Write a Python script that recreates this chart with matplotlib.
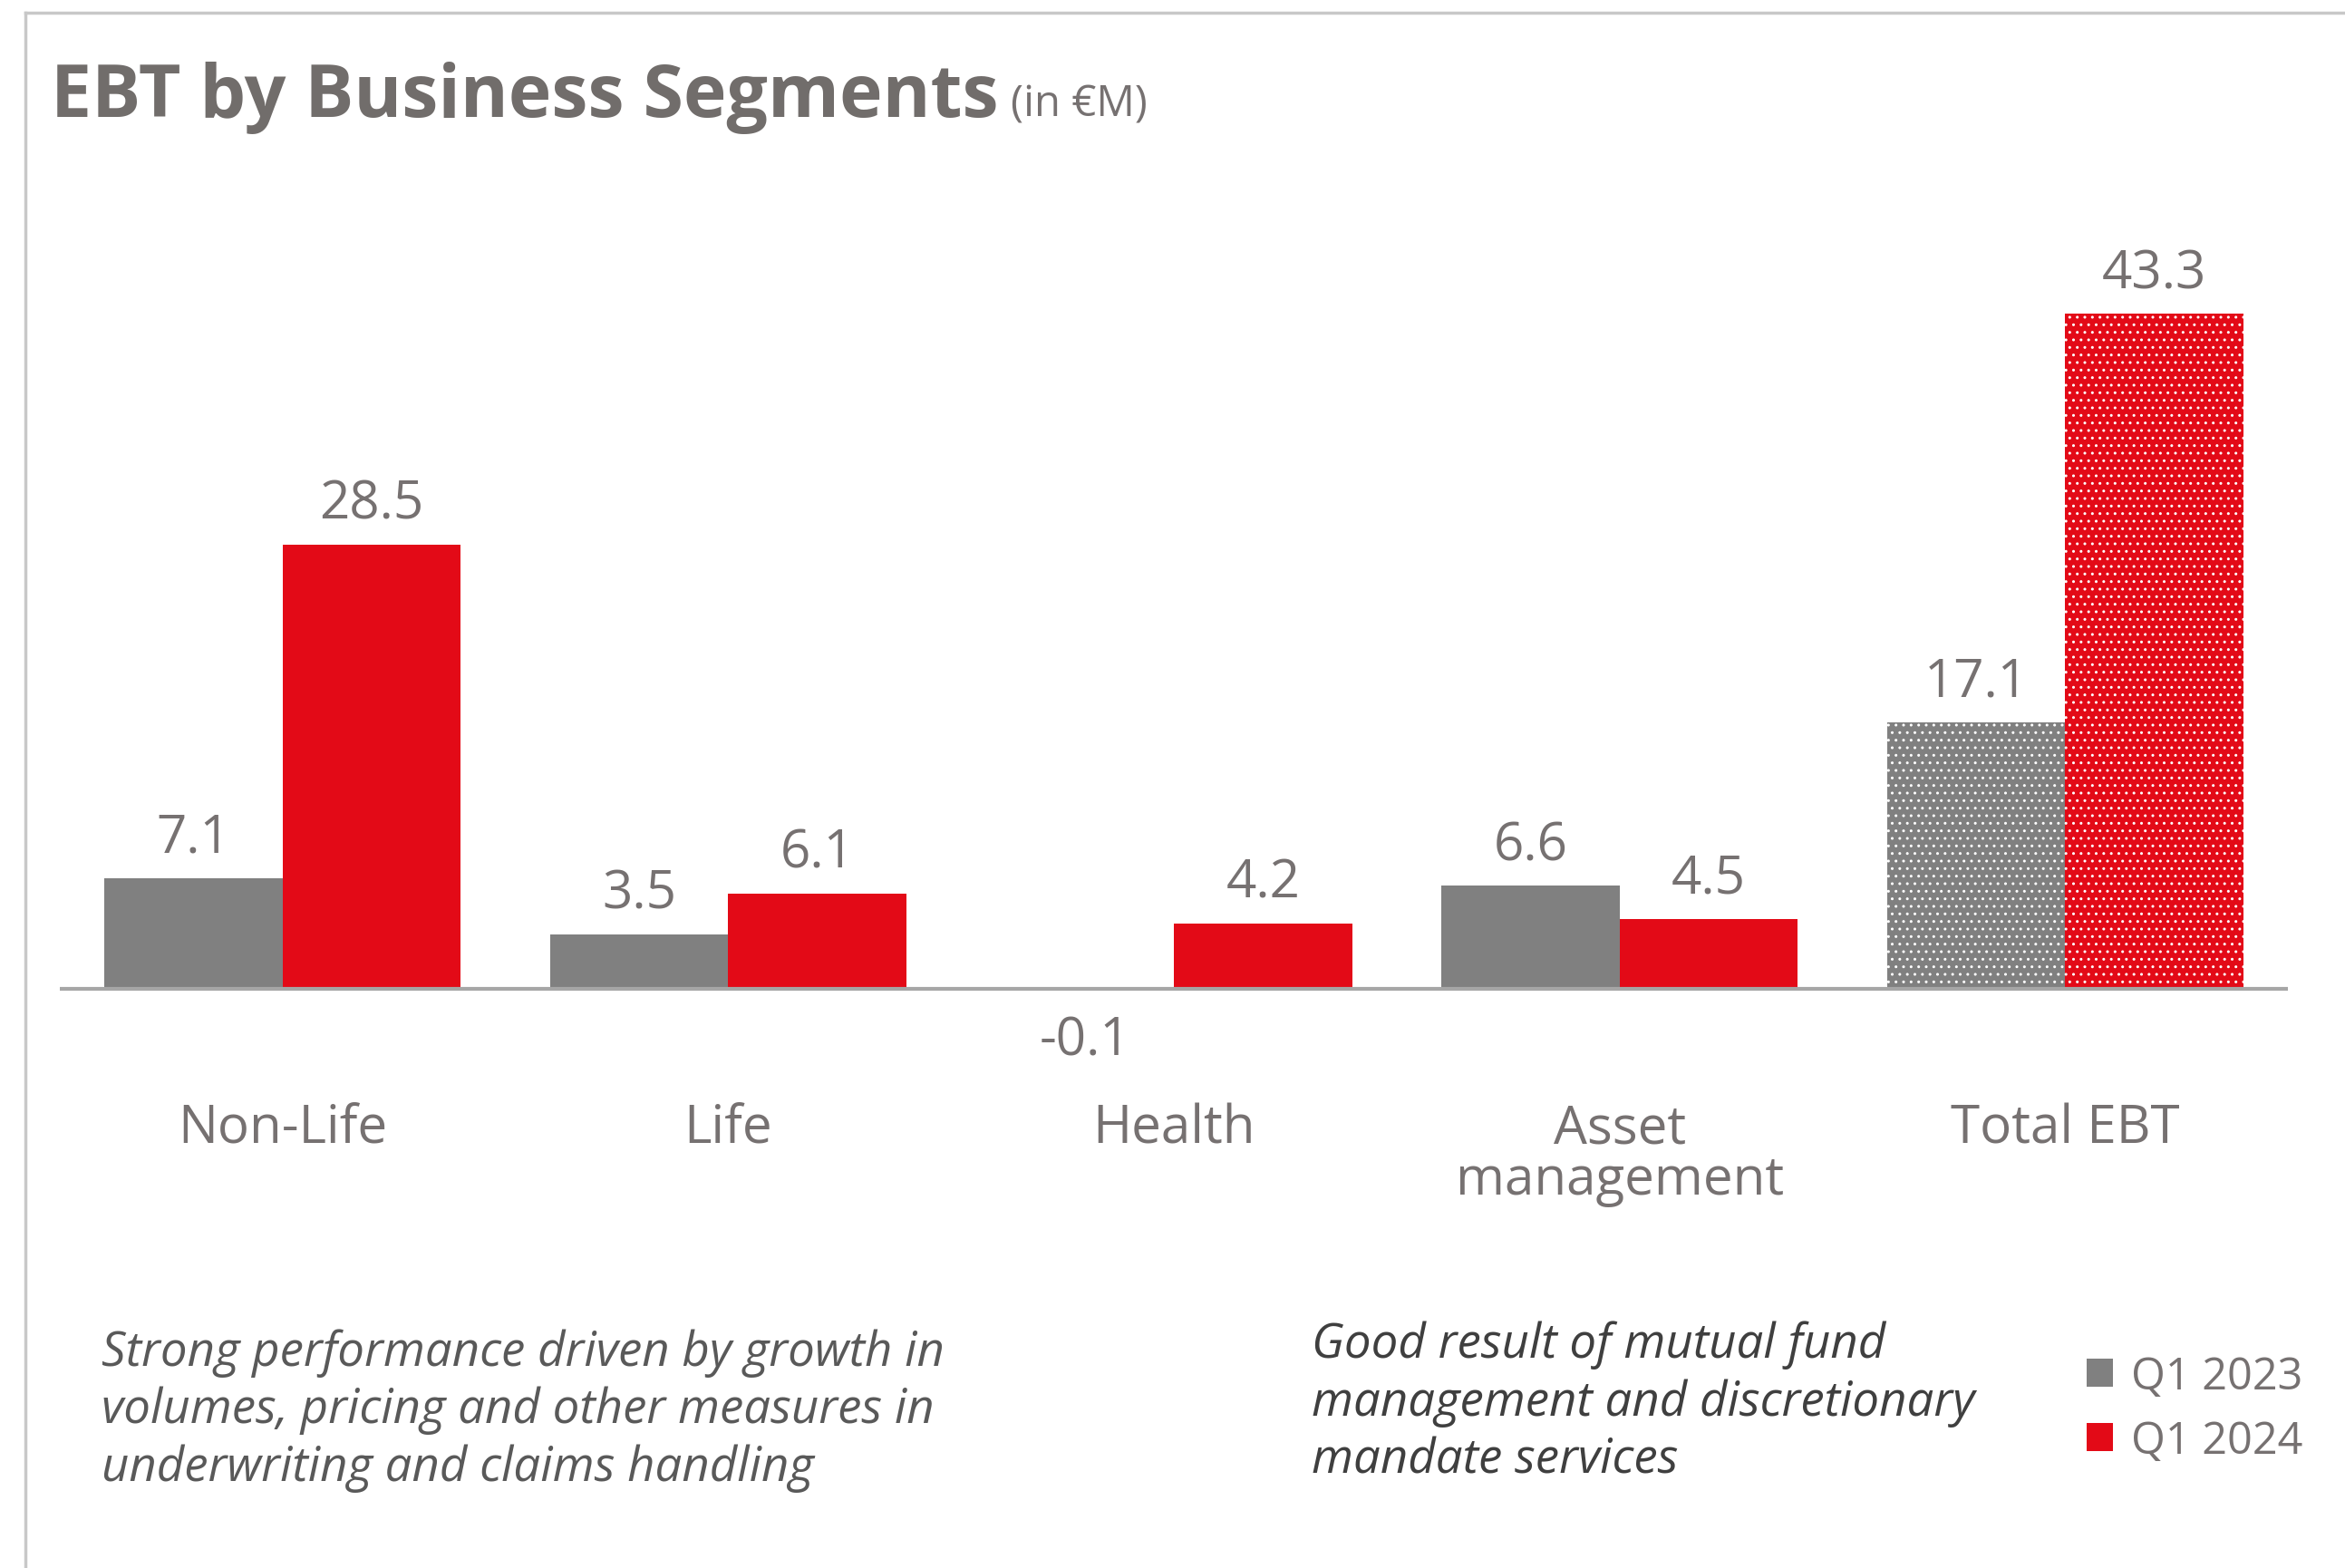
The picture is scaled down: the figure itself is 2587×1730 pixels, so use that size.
import matplotlib.pyplot as plt
from matplotlib.lines import Line2D

plt.rcParams['font.family'] = ['Open Sans', 'DejaVu Sans']

segments = ['Non-Life', 'Life', 'Health', 'Asset\nmanagement', 'Total EBT']
q1_2023 = [7.1, 3.5, -0.1, 6.6, 17.1]
q1_2024 = [28.5, 6.1, 4.2, 4.5, 43.3]
series_names = ['Q1 2023', 'Q1 2024']
notes = ['Strong performance driven by growth in\nvolumes, pricing and other measures in\nunderwriting and claims handling',
         'Good result of mutual fund\nmanagement and discretionary\nmandate services']

GREY_BAR = '#808080'
RED_BAR = '#E30A17'
TEXT = '#767171'

fig = plt.figure(figsize=(25.87, 17.31), dpi=100)
ax = fig.add_axes([0.0255, 0.3195, 0.9502, 0.5465])

x = list(range(len(segments)))
w = 0.4
b1 = ax.bar([i - w / 2 for i in x], q1_2023, width=w, color=GREY_BAR, linewidth=0)
b2 = ax.bar([i + w / 2 for i in x], q1_2024, width=w, color=RED_BAR, linewidth=0)

# dotted pattern on the totals
plt.rcParams['hatch.linewidth'] = 1.5
for bar in (b1[-1], b2[-1]):
    bar.set_hatch('..')
    bar.set_edgecolor('white')
    bar.set_linewidth(0)

for bars, vals in ((b1, q1_2023), (b2, q1_2024)):
    for bar, v in zip(bars, vals):
        cx = bar.get_x() + bar.get_width() / 2
        off = 21 if v >= 0 else -51
        ax.annotate(f'{v:.1f}', (cx, v), xytext=(0, off), textcoords='offset points',
                    ha='center', va='baseline', fontsize=42, color=TEXT)

ax.set_xlim(-0.5, 4.5)
ax.set_ylim(-5, 50)
ax.axhline(0, color='#A6A6A6', linewidth=3)
ax.set_xticks(x)
ax.set_xticklabels(segments, fontsize=42, color=TEXT, linespacing=0.95)
ax.tick_params(axis='x', length=0, pad=28)
ax.set_yticks([])
for s in ax.spines.values():
    s.set_visible(False)

# title
fig.text(0.0216, 0.9255, 'EBT by Business Segments', fontsize=58, fontweight='bold',
         color='#716D6B', va='baseline')
fig.text(0.431, 0.9255, '(in €M)', fontsize=34, color=TEXT, va='baseline')

# notes
fig.text(0.0433, 0.056, notes[0], fontsize=38, style='italic', color='#595959',
         va='baseline', linespacing=1.25)
fig.text(0.5593, 0.061, notes[1], fontsize=38, style='italic', color='#3F3F3F',
         va='baseline', linespacing=1.25)

fig.legend([b1[0], b2[0]], series_names, loc='upper left', bbox_to_anchor=(0.873, 0.1615),
           frameon=False, fontsize=35, labelcolor=TEXT, handlelength=0.6, handleheight=0.6,
           handletextpad=0.4, labelspacing=0.45)

# frame lines
fig.add_artist(Line2D([0.0108, 1.0], [0.9913, 0.9913], color='#C8C8C8', linewidth=2.5))
fig.add_artist(Line2D([0.0108, 0.0108], [0.0, 0.9913], color='#C8C8C8', linewidth=2.5))

fig.savefig('out.png', dpi=100)
